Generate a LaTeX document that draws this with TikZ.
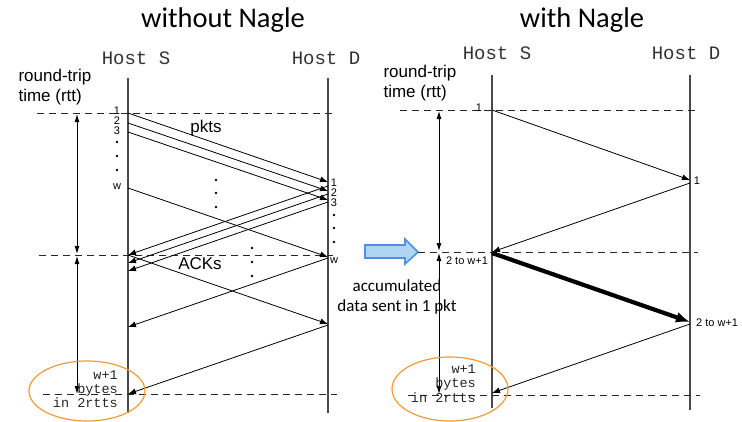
\documentclass[tikz,border=0pt]{standalone}
\usepackage{fontspec}
\setmainfont{Liberation Sans}
\newfontfamily\titlefont{Carlito}
\newfontfamily\monofont{Liberation Mono}
\usetikzlibrary{arrows.meta}
\definecolor{hostline}{HTML}{4A4A4A}
\definecolor{nagleorange}{HTML}{F39A36}
\definecolor{arrowfill}{HTML}{AED6F1}
\definecolor{arrowedge}{HTML}{4D8FE8}
\tikzset{
  title/.style={font=\titlefont\fontsize{28.5}{30}\selectfont, anchor=base},
  host/.style={font=\monofont\fontsize{19}{20}\selectfont, text=black!80},
  rttlabel/.style={font=\fontsize{17}{18}\selectfont, anchor=west},
  biglabel/.style={font=\fontsize{17}{18}\selectfont},
  seqlabel/.style={font=\fontsize{11}{12}\selectfont, inner sep=0pt},
  dot/.style={circle, fill=black, inner sep=0pt, minimum size=2.6pt},
  monolabel/.style={font=\monofont\fontsize{13.5}{14}\selectfont, text=black!85, anchor=east, inner sep=0pt},
  hostaxis/.style={draw=hostline, line width=1.2pt},
  rttline/.style={draw=black!85, line width=0.9pt, dash pattern=on 7pt off 5pt},
  msg/.style={draw=black, line width=0.8pt, -{Latex[length=8pt,width=6pt]}},
  bigmsg/.style={draw=black, line width=4.2pt, -{Latex[length=14pt,width=11pt]}},
  span/.style={draw=black, line width=0.9pt, {Latex[length=8pt,width=5pt]}-{Latex[length=8pt,width=5pt]}},
  ring/.style={draw=nagleorange, line width=1.2pt},
}
\begin{document}
\begin{tikzpicture}[x=1pt, y=-1pt]
\useasboundingbox (0,0) rectangle (742,421);

% ---------------- without Nagle ----------------
\node[title] (tA) at (223,27) {without Nagle};
\node[host] (hSA) at (136,58) {Host S};
\node[host] (hDA) at (326,58) {Host D};
\node[rttlabel] (rA1) at (15,77) {round-trip};
\node[rttlabel] (rA2) at (15,97) {time (rtt)};

% host time axes
\coordinate (SAtop) at (128,78);  \coordinate (SAbot) at (128,413);
\coordinate (DAtop) at (328,78);  \coordinate (DAbot) at (328,413);
\draw[hostaxis] (SAtop) -- (SAbot);
\draw[hostaxis] (DAtop) -- (DAbot);

% rtt markers
\coordinate (lA1) at (37,113);  \coordinate (rA1e) at (334,113);
\coordinate (lA2) at (39,255);  \coordinate (rA2e) at (333,255);
\coordinate (lA3) at (43,394);  \coordinate (rA3e) at (337,394);
\draw[rttline] (lA1) -- (rA1e);
\draw[rttline] (lA2) -- (rA2e);
\draw[rttline] (lA3) -- (rA3e);

\coordinate (vA1) at (77,114); \coordinate (vA2) at (77,254);
\coordinate (vA3) at (77,256); \coordinate (vA4) at (77,394);
\draw[span] (vA1) -- (vA2);
\draw[span] (vA3) -- (vA4);

% window of w packets
\coordinate (ps1) at (128,113); \coordinate (pd1) at (328,182);
\coordinate (ps2) at (128,123); \coordinate (pd2) at (328,191);
\coordinate (ps3) at (128,132); \coordinate (pd3) at (328,200);
\coordinate (psw) at (128,188); \coordinate (pdw) at (328,257);
\draw[msg] (ps1) -- (pd1);
\draw[msg] (ps2) -- (pd2);
\draw[msg] (ps3) -- (pd3);
\draw[msg] (psw) -- (pdw);

% acknowledgements
\coordinate (ad1) at (328,186); \coordinate (as1) at (128,255);
\coordinate (ad2) at (328,194); \coordinate (as2) at (128,263);
\coordinate (ad3) at (328,202); \coordinate (as3) at (128,271);
\draw[msg] (ad1) -- (as1);
\draw[msg] (ad2) -- (as2);
\draw[msg] (ad3) -- (as3);

% second round trip
\coordinate (qs1) at (128,255); \coordinate (qd1) at (328,324);
\coordinate (bd1) at (328,258); \coordinate (bs1) at (128,327);
\coordinate (bd2) at (328,325); \coordinate (bs2) at (128,394);
\draw[msg] (qs1) -- (qd1);
\draw[msg] (bd1) -- (bs1);
\draw[msg] (bd2) -- (bs2);

% sequence labels
\node[seqlabel] (nS1) at (117,111) {1};
\node[seqlabel] (nS2) at (117,121) {2};
\node[seqlabel] (nS3) at (117,131) {3};
\node[dot] (nSd1) at (117,142) {};
\node[dot] (nSd2) at (117,156) {};
\node[dot] (nSd3) at (117,170) {};
\node[seqlabel] (nSw) at (117,187) {w};
\node[seqlabel] (nD1) at (334,183) {1};
\node[seqlabel] (nD2) at (334,193) {2};
\node[seqlabel] (nD3) at (334,203) {3};
\node[dot] (nDd1) at (334,215) {};
\node[dot] (nDd2) at (334,228) {};
\node[dot] (nDd3) at (334,242) {};
\node[seqlabel] (nDw) at (334,261) {w};
\node[dot] (mA1) at (216,180) {};
\node[dot] (mA2) at (216,193) {};
\node[dot] (mA3) at (216,207) {};
\node[dot] (mB1) at (252,248) {};
\node[dot] (mB2) at (252,262) {};
\node[dot] (mB3) at (252,276) {};
\node[biglabel] (pk) at (206,128) {pkts};
\node[biglabel] (ak) at (200,264) {ACKs};

% throughput note
\node[monolabel] (wA1) at (118,375) {w+1};
\node[monolabel] (wA2) at (118,390) {bytes};
\node[monolabel] (wA3) at (118,403) {in 2rtts};
\draw[ring] (87,391) ellipse [x radius=58, y radius=30];

% ---------------- transition ----------------
\draw[draw=arrowedge, fill=arrowfill, line width=1.6pt, line join=miter]
  (365,245) -- (405,245) -- (405,239) -- (418,252) -- (405,264) -- (405,258) -- (365,258) -- cycle;
\node[font=\titlefont\fontsize{17}{20}\selectfont, align=center] (acc) at (397,297)
  {accumulated\\data sent in 1 pkt};

% ---------------- with Nagle ----------------
\node[title] (tB) at (582,27.5) {with Nagle};
\node[host] (hSB) at (497,53) {Host S};
\node[host] (hDB) at (686,53) {Host D};
\node[rttlabel] (rB1) at (380,73) {round-trip};
\node[rttlabel] (rB2) at (380,93) {time (rtt)};

\coordinate (SBtop) at (492,75);  \coordinate (SBbot) at (492,408);
\coordinate (DBtop) at (690,75);  \coordinate (DBbot) at (690,410);
\draw[hostaxis] (SBtop) -- (SBbot);
\draw[hostaxis] (DBtop) -- (DBbot);

\coordinate (lB1) at (400,110);  \coordinate (rB1e) at (697,110);
\coordinate (lB2) at (418,252);  \coordinate (rB2e) at (698,252);
\coordinate (lB3) at (408,395);  \coordinate (rB3e) at (700,395);
\draw[rttline] (lB1) -- (rB1e);
\draw[rttline] (lB2) -- (rB2e);
\draw[rttline] (lB3) -- (rB3e);

\coordinate (vB1) at (439,111); \coordinate (vB2) at (439,251);
\coordinate (vB3) at (439,253); \coordinate (vB4) at (439,394);
\draw[span] (vB1) -- (vB2);
\draw[span] (vB3) -- (vB4);

\coordinate (es1) at (492,110); \coordinate (ed1) at (690,180);
\coordinate (fd1) at (690,183); \coordinate (fs1) at (492,252);
\coordinate (es2) at (492,253); \coordinate (ed2) at (690,322);
\coordinate (fd2) at (690,324); \coordinate (fs2) at (492,393);
\draw[msg] (es1) -- (ed1);
\draw[msg] (fd1) -- (fs1);
\draw[bigmsg] (es2) -- (ed2);
\draw[msg] (fd2) -- (fs2);

\node[seqlabel] (oS1) at (479,108) {1};
\node[seqlabel] (oD1) at (697,181) {1};
\node[seqlabel] (oS2) at (467,261) {2 to w+1};
\node[seqlabel, anchor=west] (oD2) at (696,323) {2 to w+1};

\node[monolabel] (wB1) at (476,369) {w+1};
\node[monolabel] (wB2) at (476,384) {bytes};
\node[monolabel] (wB3) at (476,398) {in 2rtts};
\draw[ring] (450,389) ellipse [x radius=58, y radius=32];
\end{tikzpicture}
\end{document}
